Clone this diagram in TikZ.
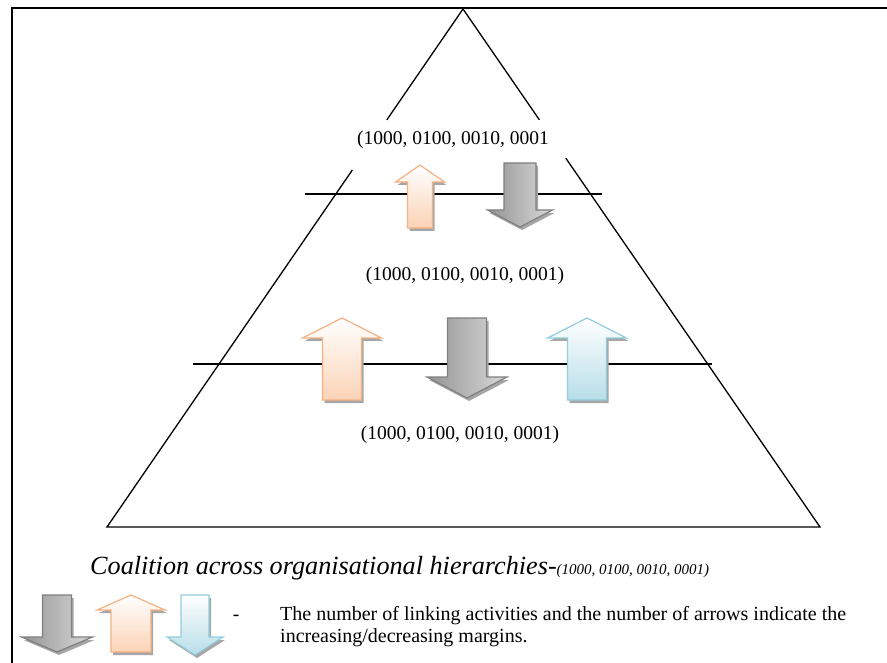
\documentclass[tikz,border=0pt]{standalone}
\usepackage{fontspec}
\setmainfont{Liberation Serif}
\usepackage{tikz}
\usetikzlibrary{
	positioning,
	calc
}

\definecolor{orangeline}{HTML}{F4B183}
\definecolor{orangefill}{HTML}{FAD3B6}
\definecolor{blueline}{HTML}{92CDDC}
\definecolor{bluefill}{HTML}{B7DEE8}
\definecolor{grayline}{HTML}{7F7F7F}

% block arrow outline: shaft half width, head half width, head length, total length
\newcommand\blockup[4]{(0,0) -- (#2,#3) -- (#1,#3) -- (#1,#4) -- (-#1,#4) -- (-#1,#3) -- (-#2,#3) -- cycle}
\newcommand\blockdown[4]{(0,0) -- (#2,-#3) -- (#1,-#3) -- (#1,-#4) -- (-#1,-#4) -- (-#1,-#3) -- (-#2,-#3) -- cycle}

\tikzset{
	arrowshadow/.style={fill=black!35},
	orangearr/.style={draw=orangeline,line width=1.2pt,top color=white,bottom color=orangefill},
	bluearr/.style={draw=blueline,line width=1.2pt,top color=white,bottom color=bluefill},
	grayarr/.style={draw=grayline,line width=1.2pt,left color=black!42,right color=black!15},
	pics/uparr/.style n args={4}{code={
		\fill[arrowshadow,shift={(2,3)}] \blockup{#1}{#2}{#3}{#4};
		\path[pic actions] \blockup{#1}{#2}{#3}{#4};
	}},
	pics/downarr/.style n args={4}{code={
		\fill[arrowshadow,shift={(2,3)}] \blockdown{#1}{#2}{#3}{#4};
		\path[pic actions] \blockdown{#1}{#2}{#3}{#4};
	}},
	lvl/.style={font=\fontsize{19.5}{23}\selectfont},
	level line/.style={line width=1.3pt}
}

\begin{document}
\begin{tikzpicture}[x=1pt,y=-1pt]
	\useasboundingbox (0,0) rectangle (887,663);
	\draw[line width=2.8pt] (12,8) rectangle (895,675);

	% pyramid
	\coordinate (apex) at (463,9);
	\coordinate (bl)   at (107,527);
	\coordinate (br)   at (820,527);
	\draw[level line] (apex) -- ($(apex)!0.214!(bl)$);
	\draw[level line] ($(apex)!0.311!(bl)$) -- (bl) -- (br) -- ($(apex)!0.288!(br)$);
	\draw[level line] ($(apex)!0.214!(br)$) -- (apex);

	% levels
	\coordinate (l1w) at (305,194);
	\coordinate (l1e) at (602,194);
	\coordinate (l2w) at (193,364);
	\coordinate (l2e) at (712,364);
	\draw[level line] (l1w) -- (l1e);
	\draw[level line] (l2w) -- (l2e);

	\node[lvl] (lbl1) at (453,140) {(1000, 0100, 0010, 0001};
	\node[lvl] (lbl2) at (465,276) {(1000, 0100, 0010, 0001)};
	\node[lvl] (lbl3) at (460,435) {(1000, 0100, 0010, 0001)};

	% arrows on the levels
	\pic[orangearr] at (420,165) {uparr={12.5}{24.5}{17}{63}};
	\pic[grayarr]   at (520,227) {downarr={16}{32.5}{17}{64}};

	\pic[orangearr] at (342,318) {uparr={19.5}{39.5}{20}{82}};
	\pic[grayarr]   at (467,398) {downarr={19.5}{40}{21}{80}};
	\pic[bluearr]   at (587,318) {uparr={19.5}{39.5}{20}{82}};

	% caption
	\node[anchor=base west,inner sep=0pt,font=\fontsize{26.2}{28}\selectfont\itshape] (caption) at (90,574)
		{Coalition across organisational hierarchies-{\fontsize{15}{17}\selectfont(1000, 0100, 0010, 0001)}};

	% legend
	\pic[grayarr]   at (57,652)  {downarr={14.5}{35.5}{15}{57}};
	\pic[orangearr] at (131,595) {uparr={20}{34}{15}{57}};
	\pic[bluearr]   at (195,655) {downarr={14}{28}{18}{60}};

	\node[lvl,anchor=base] (dash) at (236,620) {-};
	\node[anchor=north west,inner sep=0pt,align=left,font=\fontsize{20}{22.5}\selectfont] (legend) at (280,606)
		{The number of linking activities and the number of arrows indicate the\\increasing/decreasing margins.};
\end{tikzpicture}
\end{document}
